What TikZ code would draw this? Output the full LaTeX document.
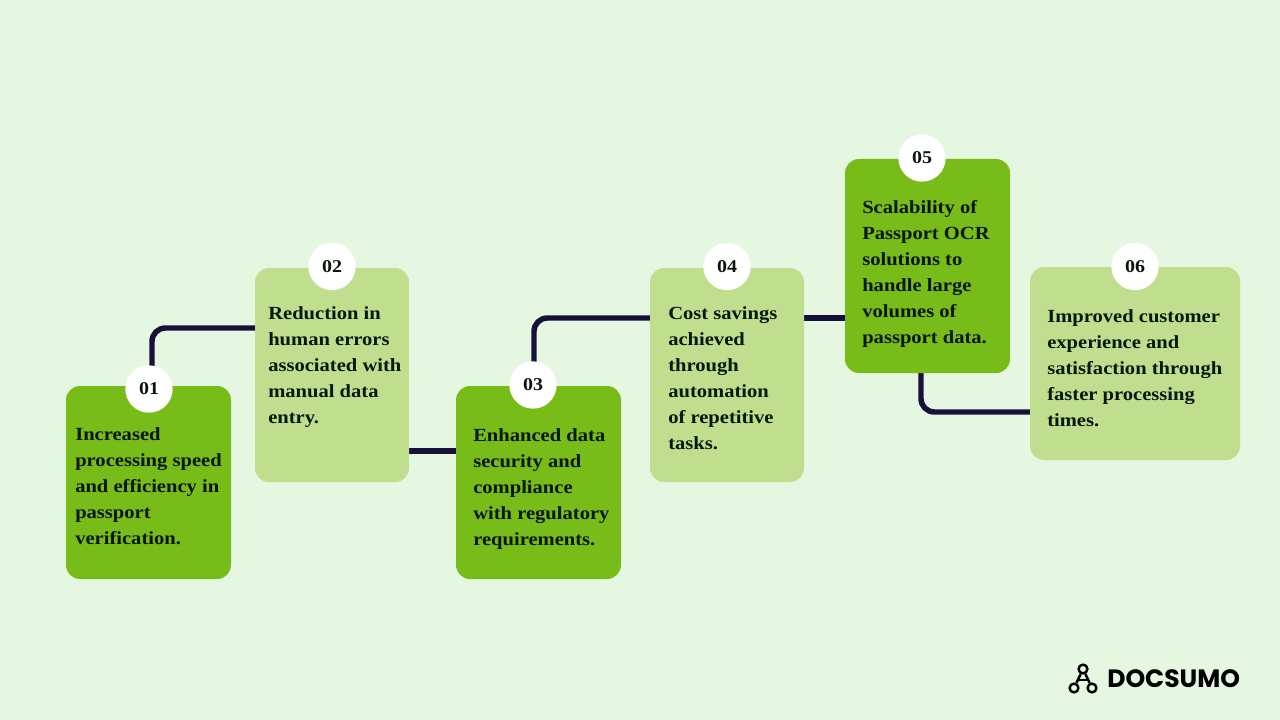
\documentclass[tikz,border=0pt]{standalone}
\usepackage{fontspec}
\setmainfont{Liberation Serif}[FakeStretch=1.11]
\newfontfamily\logofont{Poppins}
\definecolor{bgc}{HTML}{E6F7E1}
\definecolor{dark}{HTML}{78BC1A}
\definecolor{light}{HTML}{BFDF8E}
\definecolor{linec}{HTML}{17113A}
\definecolor{inkc}{HTML}{0A160A}
\tikzset{
  x=0.75pt,y=-0.75pt,
  card/.style={rounded corners=10.5pt,draw=none,inner sep=0pt},
  cardA/.style={card,fill=dark},
  cardB/.style={card,fill=light},
  conn/.style={draw=linec,line width=4.1pt,rounded corners=10pt},
  badge/.style={circle,fill=white,minimum size=35.5pt,inner sep=0pt,text=inkc,font=\bfseries\fontsize{13.5}{14}\selectfont},
  body/.style={anchor=north west,inner sep=0pt,align=left,text=inkc,font=\bfseries\fontsize{13.9}{19.5}\selectfont},
  logoline/.style={draw=black,line width=1.9pt},
  logodot/.style={circle,draw=black,line width=1.8pt,fill=bgc,minimum size=6.6pt,inner sep=0pt}
}
\begin{document}
\begin{tikzpicture}
\useasboundingbox (0,0) rectangle (1280,720);
\fill[bgc] (0,0) rectangle (1280,720);
% ends of the connectors on the cards
\coordinate (a1) at (152,366);
\coordinate (a2) at (256,328);
\coordinate (b1) at (408,451);
\coordinate (b2) at (458,451);
\coordinate (c1) at (534,366);
\coordinate (c2) at (651,318);
\coordinate (d1) at (803,318);
\coordinate (d2) at (846,318);
\coordinate (e1) at (921,372);
\coordinate (e2) at (1031,412);
\draw[conn] (a1) |- (a2);
\draw[conn] (b1) -- (b2);
\draw[conn] (c1) |- (c2);
\draw[conn] (d1) -- (d2);
\draw[conn] (e1) |- (e2);
% cards
\node[cardA,minimum width=123.75pt,minimum height=144.75pt] (k1) at (148.5,482.5) {};
\node[cardB,minimum width=115.5pt,minimum height=160.5pt] (k2) at (332,375) {};
\node[cardA,minimum width=123.75pt,minimum height=144.75pt] (k3) at (538.5,482.5) {};
\node[cardB,minimum width=115.5pt,minimum height=160.5pt] (k4) at (727,375) {};
\node[cardA,minimum width=123.75pt,minimum height=160.5pt] (k5) at (927.5,266) {};
\node[cardB,minimum width=157.5pt,minimum height=144.75pt] (k6) at (1135,363.5) {};
% badges
\node[badge] (n1) at (149,389) {01};
\node[badge] (n2) at (332,266.5) {02};
\node[badge] (n3) at (533,385) {03};
\node[badge] (n4) at (727,266.5) {04};
\node[badge] (n5) at (922,158) {05};
\node[badge] (n6) at (1135,266.5) {06};
% texts
\node[body] (t1) at (75,427.5) {Increased\\processing speed\\and efficiency in\\passport\\verification.};
\node[body] (t2) at (268,306) {Reduction in\\human errors\\associated with\\manual data\\entry.};
\node[body] (t3) at (473,428) {Enhanced data\\security and\\compliance\\with regulatory\\requirements.};
\node[body] (t4) at (668,306) {Cost savings\\achieved\\through\\automation\\of repetitive\\tasks.};
\node[body] (t5) at (862,200) {Scalability of\\Passport OCR\\solutions to\\handle large\\volumes of\\passport data.};
\node[body] (t6) at (1047,309) {Improved customer\\experience and\\satisfaction through\\faster processing\\times.};
% logo
\node[logodot] (l1) at (1083,669) {};
\node[logodot] (l2) at (1074,688) {};
\node[logodot] (l3) at (1092,688) {};
\coordinate (l4) at (1078.3,680);
\coordinate (l5) at (1087.7,680);
\draw[logoline] (l1) -- (l2);
\draw[logoline] (l1) -- (l3);
\draw[logoline] (l4) -- (l5);
\node[anchor=base west,inner sep=0pt,text=black,font=\logofont\bfseries\fontsize{18.8}{20}\selectfont] (logo) at (1107,687.5) {DOCSUMO};
\end{tikzpicture}
\end{document}
